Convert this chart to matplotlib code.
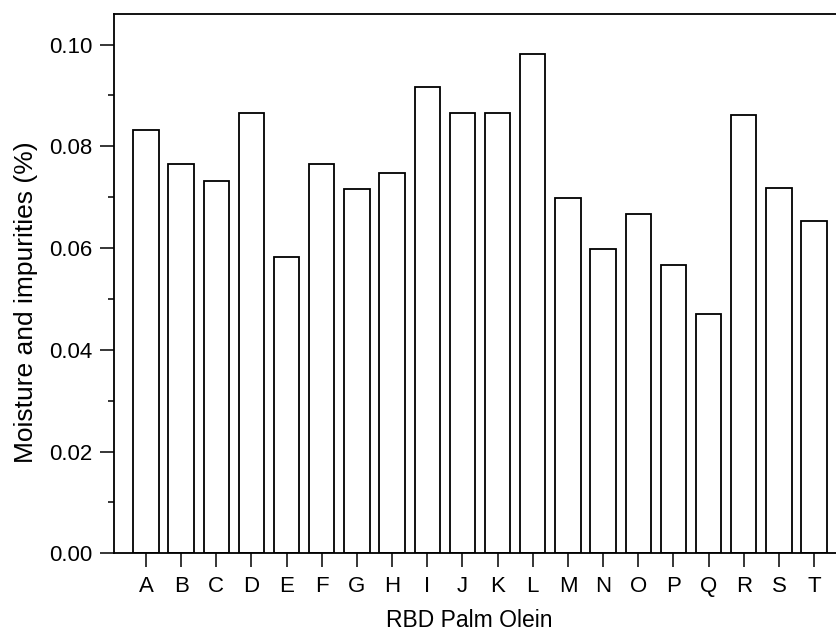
import numpy as np
import matplotlib
matplotlib.use('Agg')
import matplotlib.pyplot as plt
from matplotlib.ticker import MultipleLocator

samples = ['A', 'B', 'C', 'D', 'E', 'F', 'G', 'H', 'I', 'J',
           'K', 'L', 'M', 'N', 'O', 'P', 'Q', 'R', 'S', 'T']
moisture = [0.0832, 0.0766, 0.0732, 0.0866, 0.0583, 0.0766, 0.0716, 0.0748, 0.0916, 0.0866,
            0.0866, 0.0982, 0.0699, 0.0599, 0.0666, 0.0566, 0.0470, 0.0861, 0.0718, 0.0654]


def main():
    plt.rcParams['font.family'] = ['Liberation Sans', 'DejaVu Sans']

    fig = plt.figure(figsize=(8.36, 6.37), dpi=100)
    ax = fig.add_axes([0.1367, 0.1314, 0.875, 0.8466])

    x = np.arange(len(samples))
    ax.bar(x, moisture, width=0.72, color='white', edgecolor='black', linewidth=1.3)

    ax.set_xlim(-0.9, len(samples) - 0.1)
    ax.set_ylim(0, 0.106)
    ax.set_xticks(x)
    ax.set_xticklabels(samples)
    ax.yaxis.set_major_locator(MultipleLocator(0.02))
    ax.yaxis.set_minor_locator(MultipleLocator(0.01))
    ax.yaxis.set_major_formatter(plt.FormatStrFormatter('%.2f'))

    ax.tick_params(axis='both', which='major', direction='out', length=10, width=1.1,
                   labelsize=16, pad=6)
    ax.tick_params(axis='y', which='minor', direction='out', length=4.5, width=1.1)
    for s in ax.spines.values():
        s.set_linewidth(1.3)

    # label positions (not centred on the axes)
    ax.set_xlabel('RBD Palm Olein', fontsize=16.5)
    ax.xaxis.set_label_coords(0.485, -0.103)
    ax.set_ylabel('Moisture and impurities (%)', fontsize=19)
    ax.yaxis.set_label_coords(-0.104, 0.466)

    fig.savefig('out.png', dpi=100)


if __name__ == "__main__":
    main()
